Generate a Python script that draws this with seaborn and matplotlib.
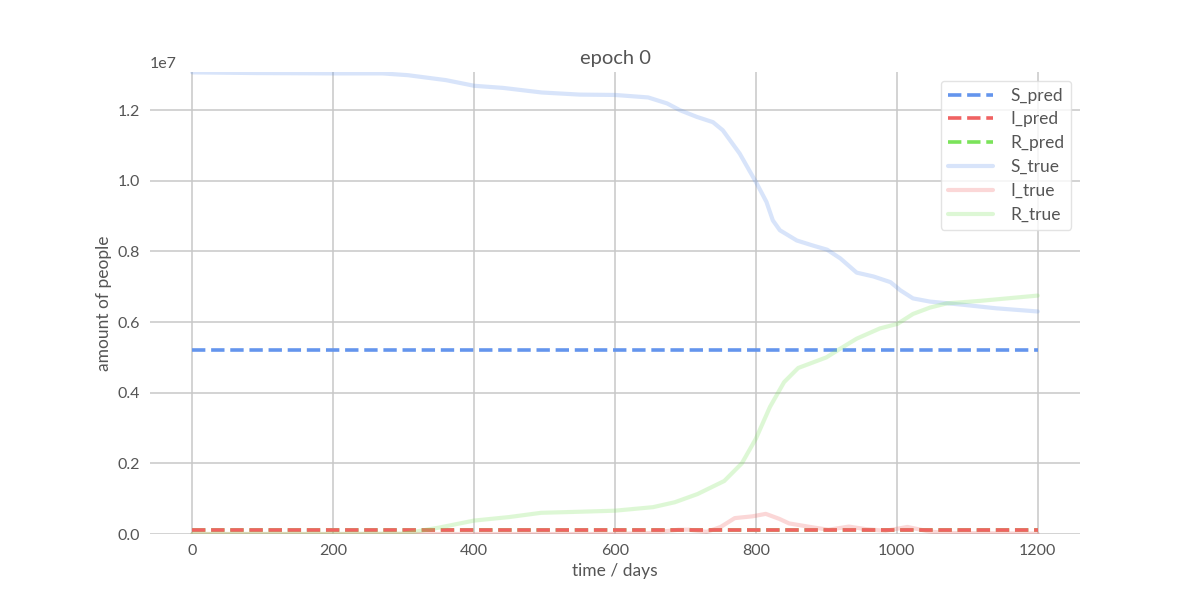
import numpy as np
import pandas as pd
import matplotlib
matplotlib.use('Agg')
import matplotlib.pyplot as plt
import seaborn as sns

# predictions of the model (flat at epoch 0)
pred_days = [0, 1200]
S_pred = [5.22e6, 5.22e6]
I_pred = [1.0e5, 1.0e5]
R_pred = [1.0e5, 1.0e5]

# "true" curves
S_days = [0, 90, 200, 270, 306, 360, 400, 441, 496, 550, 600, 647, 674, 692, 716, 739,
          753, 777, 801, 815, 824, 834, 858, 882, 901, 920, 943, 967, 991, 1005, 1023,
          1047, 1094, 1141, 1200]
S_true = [13.07, 13.05, 13.04, 13.04, 12.99, 12.85, 12.69, 12.63, 12.50, 12.44, 12.43,
          12.36, 12.19, 12.0, 11.81, 11.66, 11.43, 10.77, 9.93, 9.4, 8.88, 8.6, 8.31,
          8.16, 8.05, 7.8, 7.4, 7.29, 7.13, 6.9, 6.67, 6.58, 6.49, 6.39, 6.30]

I_days = [0, 600, 650, 690, 705, 730, 750, 770, 795, 814, 833, 847, 880, 903, 932, 955,
          984, 1015, 1046, 1070, 1200]
I_true = [0.0, 0.0, 0.03, 0.12, 0.12, 0.06, 0.2, 0.45, 0.5, 0.57, 0.43, 0.3, 0.19, 0.12,
          0.21, 0.14, 0.09, 0.2, 0.07, 0.03, 0.01]

R_days = [0, 200, 300, 350, 400, 450, 495, 550, 600, 654, 685, 717, 755, 780, 800, 820,
          840, 860, 880, 900, 920, 943, 976, 1001, 1023, 1047, 1071, 1118, 1200]
R_true = [0.0, 0.0, 0.01, 0.18, 0.38, 0.48, 0.6, 0.63, 0.66, 0.76, 0.9, 1.13, 1.5, 2.0,
          2.7, 3.6, 4.3, 4.7, 4.85, 5.0, 5.25, 5.53, 5.82, 5.95, 6.23, 6.41, 6.53, 6.6, 6.75]

S_true = np.array(S_true) * 1e6
I_true = np.array(I_true) * 1e6
R_true = np.array(R_true) * 1e6

blue = '#6495ed'
red = '#f06262'
green = '#7be35a'
txt = '#555555'

sns.set_style('white')
plt.rcParams['font.family'] = ['Lato', 'DejaVu Sans']
plt.rcParams['text.color'] = txt
plt.rcParams['axes.labelcolor'] = txt
plt.rcParams['xtick.color'] = txt
plt.rcParams['ytick.color'] = txt

fig, ax = plt.subplots(figsize=(12, 6), dpi=100)

sns.lineplot(x=pred_days, y=S_pred, ax=ax, color=blue, lw=2.6, linestyle='--', label='S_pred', zorder=3)
sns.lineplot(x=pred_days, y=I_pred, ax=ax, color=red, lw=2.6, linestyle='--', label='I_pred', zorder=3)
sns.lineplot(x=pred_days, y=R_pred, ax=ax, color=green, lw=2.6, linestyle='--', label='R_pred', zorder=2)
sns.lineplot(x=S_days, y=S_true, ax=ax, color=blue, lw=3, alpha=0.25, label='S_true', zorder=4)
sns.lineplot(x=I_days, y=I_true, ax=ax, color=red, lw=3, alpha=0.25, label='I_true', zorder=4)
sns.lineplot(x=R_days, y=R_true, ax=ax, color=green, lw=3, alpha=0.25, label='R_true', zorder=4)

ax.set_ylim(0, S_true.max() + 1e4)
ax.set_xticks([0, 200, 400, 600, 800, 1000, 1200])
ax.grid(True, color='#c8c8c8', lw=1.1)
ax.set_axisbelow(True)
sns.despine(ax=ax, left=True, bottom=True, top=True, right=True)
ax.tick_params(length=0, labelsize=11.5, pad=7)

ax.set_title('epoch 0', fontsize=14.5)
ax.set_xlabel('time / days', fontsize=12.5)
ax.set_ylabel('amount of people', fontsize=12.5)
ax.yaxis.get_offset_text().set_fontsize(11.5)

leg = ax.legend(loc='upper right', fontsize=12.5, frameon=True, handlelength=2.6,
                labelspacing=0.45, handletextpad=1.0)
leg.get_frame().set_edgecolor('#dddddd')
for t in leg.get_texts():
    t.set_color(txt)

plt.savefig('out.png', dpi=100)
